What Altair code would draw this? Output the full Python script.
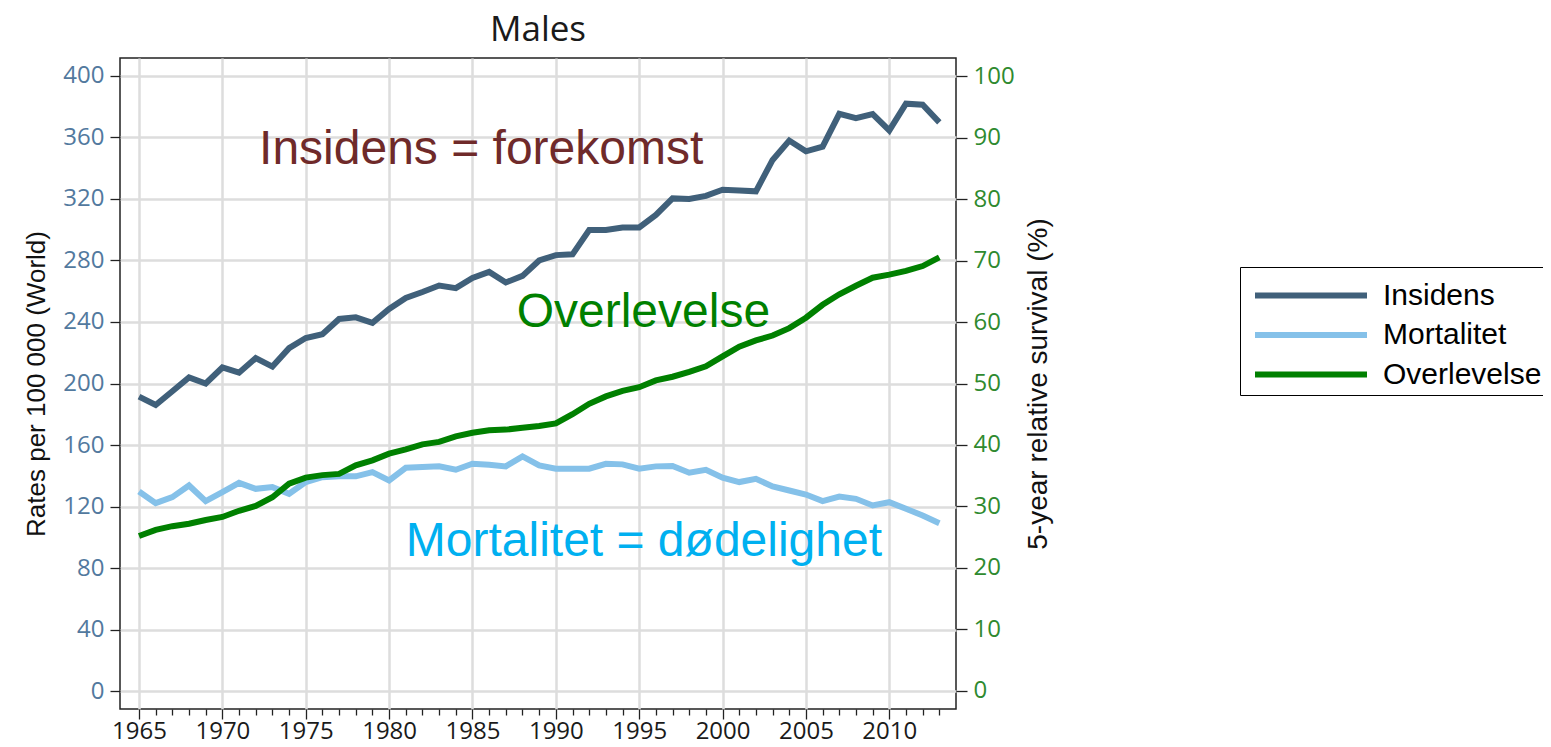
import altair as alt
import pandas as pd

# ---------------- data ----------------
years = list(range(1965, 2014))
series_names = ["Insidens", "Mortalitet", "Overlevelse"]
series_colors = ["#40607A", "#85C1E9", "#008000"]

insidens = [191.5, 186, 195, 204, 200, 210.4, 207, 216.5, 211, 223, 229.6, 232,
            242, 243, 239.5, 248.5, 255.6, 259.5, 263.7, 262, 268.7, 272.6, 265.7, 270,
            280, 283.5, 284, 299.8, 299.8, 301.5, 301.5, 309.6, 320.4, 320, 322, 326,
            325.5, 325, 345.4, 358, 351, 354, 375.4, 372.6, 375.2, 364.6, 382, 381.3, 369.8]
mortalitet = [129.8, 122.2, 126.1, 133.7, 123.5, 129.3, 135.4, 131.5, 132.6, 128.3, 135.9, 139.1,
              139.6, 139.6, 142.4, 137, 145.2, 145.7, 146.1, 143.9, 147.8, 147.2, 146.1, 152.6,
              146.7, 144.6, 144.6, 144.6, 147.8, 147.4, 144.6, 146.1, 146.3, 142, 143.9, 138.7,
              135.9, 138, 133, 130.4, 127.8, 123.5, 126.5, 125, 120.7, 122.8, 118.5, 114.1, 109.1]
overlevelse = [25.2, 26.2, 26.8, 27.2, 27.8, 28.3, 29.3, 30.1, 31.5, 33.7, 34.7, 35.1,
               35.3, 36.7, 37.5, 38.6, 39.3, 40.1, 40.5, 41.4, 42.0, 42.4, 42.5, 42.8,
               43.1, 43.5, 45.0, 46.7, 47.9, 48.8, 49.4, 50.5, 51.1, 51.9, 52.8, 54.4,
               56.0, 57.0, 57.8, 59.0, 60.7, 62.8, 64.5, 65.9, 67.2, 67.7, 68.3, 69.1, 70.5]

left_ticks = list(range(0, 401, 40))
right_ticks = list(range(0, 101, 10))

ann_labels = ["Insidens = forekomst", "Overlevelse", "Mortalitet = dødelighet"]
ann_years = [1972.2, 1987.65, 1981.0]
ann_values = [342.5, 236.5, 87.8]
ann_colors = ["#6F2A2A", "#008000", "#00B0F0"]

# ---------------- tables ----------------
df = pd.DataFrame({
    "year": years * 3,
    "series": ["Insidens"] * len(years) + ["Mortalitet"] * len(years) + ["Overlevelse"] * len(years),
    "value": insidens + mortalitet + overlevelse,
})
df_left = df[df["series"] != "Overlevelse"]
df_right = df[df["series"] == "Overlevelse"]

LABEL_FONT = "Open Sans"
TITLE_FONT = "Liberation Sans"

x_axis = alt.Axis(
    values=years, tickCount=100, format="d",
    labelExpr="datum.value % 5 === 0 ? datum.label : ''",
    labelOverlap=False, labelFont=LABEL_FONT, labelFontSize=24, labelColor="#1a1a1a",
    labelPadding=0, labelFlush=False,
    tickColor="#222222", tickWidth=1.3,
    tickSize={"condition": {"test": "datum.value % 5 === 0", "value": 10}, "value": 6},
    grid=True, gridWidth=2.5,
    gridColor={"condition": {"test": "datum.value % 5 === 0", "value": "#dddddd"},
               "value": "rgba(0,0,0,0)"},
    domain=False, title=None,
)
x_scale = alt.Scale(domain=[1963.86, 2014.0], nice=False, zero=False)

left_axis = alt.Axis(
    values=left_ticks, tickCount=20, grid=True, gridColor="#dddddd", gridWidth=2.5,
    tickSize=10, tickColor="#222222", tickWidth=1.3, domain=False,
    labelFont=LABEL_FONT, labelFontSize=24, labelColor="#52799E", labelPadding=6,
    title="Rates per 100 000 (World)", titleFont=TITLE_FONT, titleFontSize=26,
    titleFontWeight="normal", titleColor="#111111", titlePadding=13,
)
left_scale = alt.Scale(domain=[-11.7, 411.7], nice=False, zero=False)

right_axis = alt.Axis(
    values=right_ticks, tickCount=20, grid=False, orient="right",
    tickSize=11, tickColor="#222222", tickWidth=1.3, domain=False,
    labelFont=LABEL_FONT, labelFontSize=24, labelColor="#2F8A2F", labelPadding=6,
    title="5-year relative survival (%)", titleFont=TITLE_FONT, titleFontSize=28,
    titleFontWeight="normal", titleColor="#111111", titlePadding=38, titleAngle=270,
)
right_scale = alt.Scale(domain=[-2.93, 102.93], nice=False, zero=False)

legend = alt.Legend(
    title=None, orient="none", legendX=1120, legendY=209,
    symbolType="M-0.675,0H4.925", symbolSize=1600, symbolStrokeWidth=6,
    labelFont=TITLE_FONT, labelFontSize=30, labelColor="#000000", labelOffset=91.5,
    rowPadding=1.5, padding=5.5, strokeColor="#000000", fillColor="#ffffff",
    labelLimit=400,
)
color_enc = alt.Color("series:N", scale=alt.Scale(domain=series_names, range=series_colors),
                      legend=legend)

left_lines = alt.Chart(df_left).mark_line(strokeWidth=6).encode(
    x=alt.X("year:Q", scale=x_scale, axis=x_axis),
    y=alt.Y("value:Q", scale=left_scale, axis=left_axis),
    color=color_enc,
)

texts = []
for lab, yr, val, col in zip(ann_labels, ann_years, ann_values, ann_colors):
    tdf = pd.DataFrame({"year": [yr], "value": [val], "label": [lab]})
    texts.append(
        alt.Chart(tdf).mark_text(align="left", baseline="alphabetic", font=TITLE_FONT,
                                 fontSize=48, color=col).encode(
            x=alt.X("year:Q", scale=x_scale, axis=x_axis),
            y=alt.Y("value:Q", scale=left_scale, axis=left_axis),
            text="label:N",
        )
    )

left = alt.layer(left_lines, *texts)

right = alt.Chart(df_right).mark_line(strokeWidth=6).encode(
    x=alt.X("year:Q", scale=x_scale, axis=x_axis),
    y=alt.Y("value:Q", scale=right_scale, axis=right_axis),
    color=color_enc,
)

chart = alt.layer(left, right).resolve_scale(y="independent").properties(
    width=836, height=651,
    title=alt.TitleParams("Males", font=LABEL_FONT, fontSize=35, fontWeight="normal",
                          color="#1a1a1a", frame="group", anchor="middle", offset=10),
    padding={"left": 112, "top": 50, "right": 587, "bottom": 36},
    autosize=alt.AutoSizeParams(type="none"),
).configure_view(stroke="#222222", strokeWidth=1.5)

chart.save("out.html", embed_options={"renderer": "svg", "actions": False})
